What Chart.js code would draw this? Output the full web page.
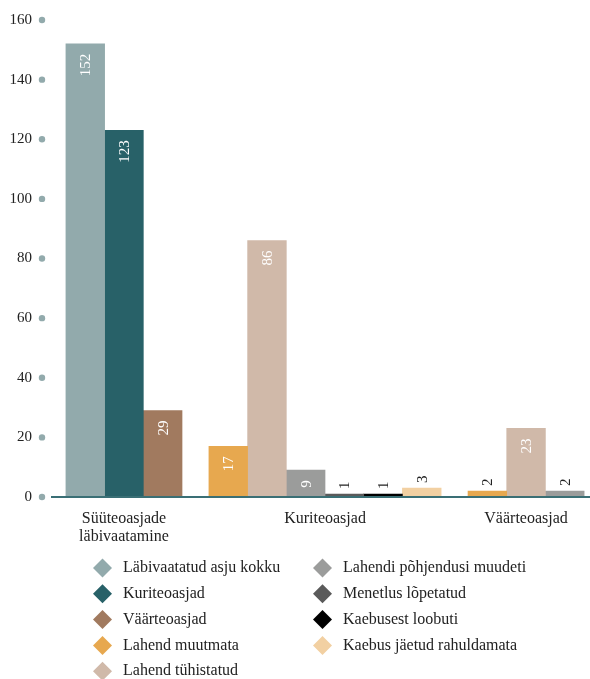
<!DOCTYPE html>
<html><head><meta charset="utf-8">
<script src="https://cdn.jsdelivr.net/npm/chart.js@4"></script>
<style>html,body{margin:0;padding:0;background:#fff}canvas{display:block}</style>
</head><body>
<canvas id="c" width="590" height="679" style="width:590px;height:679px"></canvas>
<script>
// ---- data ----
const categories = [['Süüteoasjade', 'läbivaatamine'], 'Kuriteoasjad', 'Väärteoasjad'];
const categoryPositions = [0, 1, 2];
const yTickValues = [0, 20, 40, 60, 80, 100, 120, 140, 160];

const seriesNames = [
  'Läbivaatatud asju kokku',
  'Kuriteoasjad',
  'Väärteoasjad',
  'Lahend muutmata',
  'Lahend tühistatud',
  'Lahendi põhjendusi muudeti',
  'Menetlus lõpetatud',
  'Kaebusest loobuti',
  'Kaebus jäetud rahuldamata'
];
const seriesColors = ['#92aaac', '#286168', '#a17a5f', '#e7a84f', '#d0b9a9', '#9b9c9b', '#5a5a5a', '#000000', '#f2d0a2'];

const labivaadatudKokku = [152, null, null];
const kuriteoasjad      = [123, null, null];
const vaarteoasjad      = [29, null, null];
const lahendMuutmata    = [null, 17, 2];
const lahendTuhistatud  = [null, 86, 23];
const pohjendusiMuudeti = [null, 9, 2];
const menetlusLopetatud = [null, 1, null];
const kaebusestLoobuti  = [null, 1, null];
const jaetudRahuldamata = [null, 3, null];

const seriesValues = [labivaadatudKokku, kuriteoasjad, vaarteoasjad, lahendMuutmata, lahendTuhistatud,
  pohjendusiMuudeti, menetlusLopetatud, kaebusestLoobuti, jaetudRahuldamata];

// ---- chart ----
const SERIF = "'Liberation Serif', 'DejaVu Serif', serif";
const TEXT = '#222222';
const X_MIN = -0.358, X_MAX = 2.318;

const datasets = seriesNames.map((name, i) => ({
  label: name,
  data: seriesValues[i].map((v, j) => ({ x: categoryPositions[j], y: v })),
  backgroundColor: seriesColors[i],
  borderWidth: 0,
  barThickness: 38.7,
  skipNull: true
}));

const dotsPlugin = {
  id: 'dots',
  afterDraw(chart) {
    const y = chart.scales.y, ctx = chart.ctx;
    ctx.save();
    ctx.fillStyle = '#92aaac';
    y.ticks.forEach(t => {
      const py = y.getPixelForValue(t.value);
      ctx.beginPath();
      ctx.arc(42, py, 3.2, 0, Math.PI * 2);
      ctx.fill();
    });
    ctx.restore();
  }
};

const valueLabels = {
  id: 'valueLabels',
  afterDatasetsDraw(chart) {
    const ctx = chart.ctx;
    ctx.save();
    ctx.font = '15px ' + SERIF;
    ctx.textBaseline = 'middle';
    chart.data.datasets.forEach((ds, di) => {
      const meta = chart.getDatasetMeta(di);
      meta.data.forEach((el, i) => {
        const v = ds.data[i].y;
        if (v === null || v === undefined) return;
        const text = String(v);
        const w = ctx.measureText(text).width;
        const h = el.base - el.y;
        ctx.save();
        if (h > w + 16) {
          ctx.translate(el.x, el.y + 10);
          ctx.rotate(-Math.PI / 2);
          ctx.textAlign = 'right';
          ctx.fillStyle = '#ffffff';
        } else {
          ctx.translate(el.x, el.y - 5);
          ctx.rotate(-Math.PI / 2);
          ctx.textAlign = 'left';
          ctx.fillStyle = TEXT;
        }
        ctx.fillText(text, 0, 1);
        ctx.restore();
      });
    });
    ctx.restore();
  }
};

const customLegend = {
  id: 'customLegend',
  afterDraw(chart) {
    const ctx = chart.ctx;
    const items = Chart.defaults.plugins.legend.labels.generateLabels(chart);
    const colX = [102.5, 322.5];
    const rowY0 = 568, rowH = 25.8, perCol = 5, r = 9.5;
    ctx.save();
    ctx.font = '16px ' + SERIF;
    ctx.textBaseline = 'middle';
    ctx.textAlign = 'left';
    items.forEach((it, i) => {
      const col = Math.floor(i / perCol), row = i % perCol;
      const x = colX[col], y = rowY0 + row * rowH;
      ctx.fillStyle = it.fillStyle;
      ctx.beginPath();
      ctx.moveTo(x, y - r); ctx.lineTo(x + r, y); ctx.lineTo(x, y + r); ctx.lineTo(x - r, y);
      ctx.closePath();
      ctx.fill();
      ctx.fillStyle = TEXT;
      ctx.fillText(it.text, x + 20.5, y);
    });
    ctx.restore();
  }
};

new Chart(document.getElementById('c'), {
  type: 'bar',
  data: { datasets },
  plugins: [dotsPlugin, valueLabels, customLegend],
  options: {
    responsive: false,
    animation: false,
    devicePixelRatio: 1,
    layout: { padding: { top: 20, left: 0, right: 0, bottom: 0 } },
    plugins: { legend: { display: false }, tooltip: { enabled: false } },
    scales: {
      x: {
        type: 'linear',
        offset: false,
        bounds: 'data',
        min: X_MIN,
        max: X_MAX,
        grid: { display: false, drawTicks: false, offset: false },
        border: { display: true, color: '#3a6f75', width: 2, z: 1 },
        afterDataLimits(scale) { scale.min = X_MIN; scale.max = X_MAX; },
        afterBuildTicks(scale) {
          scale.min = X_MIN; scale.max = X_MAX;
          scale.ticks = categoryPositions.map(v => ({ value: v }));
        },
        afterFit(scale) { scale.height = 182; scale.paddingLeft = 0; scale.paddingRight = 0; },
        ticks: {
          autoSkip: false,
          maxRotation: 0,
          padding: 12,
          color: TEXT,
          font: { family: SERIF, size: 16, lineHeight: 1.17 },
          callback: (v) => categories[Math.round(v)]
        }
      },
      y: {
        min: 0,
        max: 160,
        grid: { display: false, drawTicks: false },
        border: { display: false },
        afterBuildTicks(scale) { scale.ticks = yTickValues.map(v => ({ value: v })); },
        afterFit(scale) { scale.width = 52; scale.paddingTop = 0; scale.paddingBottom = 0; },
        ticks: {
          padding: 20,
          color: TEXT,
          font: { family: SERIF, size: 15 }
        }
      }
    }
  }
});
</script>
</body></html>
